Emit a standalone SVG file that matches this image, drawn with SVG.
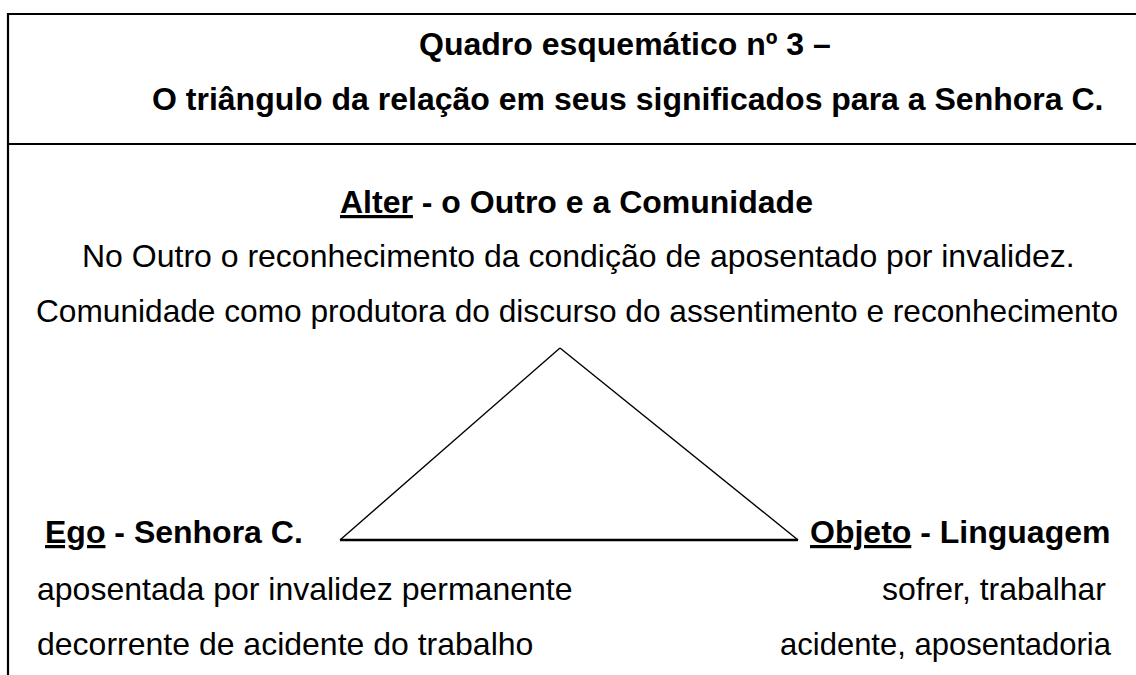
<svg xmlns="http://www.w3.org/2000/svg" width="1136" height="675" viewBox="0 0 1136 675">
<style>
text{font-family:"Liberation Sans",Arial,sans-serif;font-size:32px;fill:#000}
.b{font-weight:bold}
.u{text-decoration:underline}
.frame{stroke:#000;stroke-width:2.2;fill:none}
.side{stroke:#000;stroke-width:1.4;fill:none}
.base{stroke:#000;stroke-width:2.6;fill:none}
</style>
<rect width="1136" height="675" fill="#fff"/>
<g id="frame">
<line class="frame" x1="7" y1="14" x2="1136" y2="14"/>
<line class="frame" x1="8" y1="13" x2="8" y2="675"/>
<line class="frame" x1="8" y1="144" x2="1136" y2="144"/>
</g>
<g id="title">
<text class="b" x="419" y="55">Quadro esquemático nº 3 –</text>
<text class="b" x="152" y="110">O triângulo da relação em seus significados para a Senhora C.</text>
</g>
<g id="connectors">
<line class="side" x1="340" y1="540" x2="560" y2="348"/>
<line class="side" x1="560" y1="348" x2="798" y2="540"/>
<line class="base" x1="340" y1="540" x2="798" y2="540"/>
</g>
<g id="alter">
<text class="b" x="340" y="213"><tspan class="u">Alter</tspan> - o Outro e a Comunidade</text>
<text x="82" y="267">No Outro o reconhecimento da condição de aposentado por invalidez.</text>
<text x="36" y="322" textLength="1082" lengthAdjust="spacingAndGlyphs">Comunidade como produtora do discurso do assentimento e reconhecimento</text>
</g>
<g id="ego">
<text class="b" x="45" y="543"><tspan class="u">Ego</tspan> - Senhora C.</text>
<text x="37" y="600">aposentada por invalidez permanente</text>
<text x="37" y="655">decorrente de acidente do trabalho</text>
</g>
<g id="objeto">
<text class="b" x="810" y="543"><tspan class="u">Objeto</tspan> - Linguagem</text>
<text x="1106" y="600" text-anchor="end">sofrer, trabalhar</text>
<text x="780" y="655" textLength="331" lengthAdjust="spacingAndGlyphs">acidente, aposentadoria</text>
</g>
</svg>
